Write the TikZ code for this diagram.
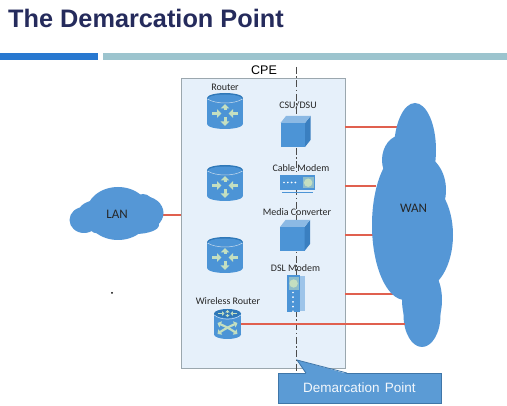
\documentclass[tikz,border=0pt]{standalone}
\usepackage{fontspec}
\setmainfont{Carlito}
\newfontfamily\arialf{Liberation Sans}
\usetikzlibrary{arrows.meta}
\definecolor{cloudblue}{HTML}{5597D6}
\definecolor{iconblue}{HTML}{4C94D6}
\definecolor{icondark}{HTML}{2F78B8}
\definecolor{iconside}{HTML}{3A7FC0}
\definecolor{iconlight}{HTML}{C4DFC0}
\definecolor{boxfill}{HTML}{E6F0FA}
\definecolor{boxline}{HTML}{9BA7AE}
\definecolor{wire}{HTML}{E0604F}
\definecolor{titlecol}{HTML}{252B5C}
\definecolor{barblue}{HTML}{2878D0}
\definecolor{barteal}{HTML}{9CC4CE}
\definecolor{calloutfill}{HTML}{5B9BD5}
\definecolor{calloutline}{HTML}{3F76A8}
\tikzset{
  cloudshape/.style={fill=cloudblue,draw=none},
  wirelink/.style={draw=wire,line width=1.1pt},
  lbl/.style={font=\fontsize{10}{11}\selectfont,text=black!85,inner sep=0pt},
  cloudlbl/.style={font=\fontsize{13}{14}\selectfont,text=black!85,inner sep=0pt},
  arr/.style={-{Triangle[length=4.5pt,width=8.5pt]},draw=iconlight,line width=3pt},
  smallarr/.style={-{Triangle[length=2.4pt,width=4.4pt]},draw=iconlight,line width=1.4pt},
  xarr/.style={{Triangle[length=3.5pt,width=6.5pt]}-{Triangle[length=3.5pt,width=6.5pt]},draw=iconlight,line width=2.2pt},
  routerpic/.pic={
    \fill[iconblue] (0,13) ellipse[x radius=18,y radius=5];
    \fill[iconblue] (-18,-13) rectangle (18,13);
    \fill[icondark] (0,-13) ellipse[x radius=18,y radius=5];
    \fill[iconblue] (0,-12.4) ellipse[x radius=17,y radius=4.1];
    \draw[white!75!iconblue,line width=.5pt] (-17.5,-12) .. controls (-10,-6.7) and (10,-6.7) .. (17.5,-12);
    \draw[arr] (0,-1) -- (0,-7);
    \draw[arr] (0,6) -- (0,15);
    \draw[arr] (-13,2.5) -- (-3.5,2.5);
    \draw[arr] (13,2.5) -- (3.5,2.5);
  },
  wirelesspic/.pic={
    \fill[iconblue] (0,10.5) ellipse[x radius=13.5,y radius=4.5];
    \fill[iconblue] (-13.5,-10.5) rectangle (13.5,10.5);
    \fill[icondark] (0,-10.5) ellipse[x radius=13.5,y radius=4.5];
    \draw[white!75!iconblue,line width=.5pt] (-13.2,-9) .. controls (-7,-3.5) and (7,-3.5) .. (13.2,-9);
    \draw[smallarr] (0,-10.5) -- (0,-14);
    \draw[smallarr] (0,-10) -- (0,-6.8);
    \draw[smallarr] (-9.5,-10.5) -- (-3,-10.5);
    \draw[smallarr] (9.5,-10.5) -- (3,-10.5);
    \draw[xarr] (-10,-1) .. controls (-3,2) and (3,5) .. (10,10);
    \draw[xarr] (10,-1) .. controls (3,2) and (-3,5) .. (-10,10);
  },
  cubepic/.pic={
    \fill[iconblue] (-15,-8.5) rectangle (9.5,15.5);
    \fill[iconside] (9.5,-8.5) -- (15,-15.5) -- (15,8.5) -- (9.5,15.5) -- cycle;
    \fill[iconblue!65!white] (-15,-8.5) -- (-9.5,-15.5) -- (15,-15.5) -- (9.5,-8.5) -- cycle;
  },
}
\begin{document}
\begin{tikzpicture}[x=1pt,y=-1pt]
\useasboundingbox (0,0) rectangle (507,406);
\fill[white] (0,0) rectangle (507,406);
% title and rules
\node[anchor=west,inner sep=0pt,text=titlecol,font=\arialf\bfseries\fontsize{25.3}{27}\selectfont] (title) at (8,18.5) {The Demarcation Point};
\fill[barblue] (0,53) rectangle (97.5,60);
\fill[barteal] (102.5,53) rectangle (507,60);
% CPE box
\node[draw=boxline,fill=boxfill,line width=.8pt,minimum width=164pt,minimum height=290pt,inner sep=0pt] (cpe) at (263,223) {};
\node[inner sep=0pt,font=\arialf\fontsize{12.5}{13}\selectfont] (cpelabel) at (264,70) {CPE};
% connection ends
\coordinate (lanedge) at (160,215);
\coordinate (csuwan) at (399,127);
\coordinate (cablewan) at (376,186);
\coordinate (mediawan) at (375,235);
\coordinate (dslwan) at (401,294);
\coordinate (wrwan) at (405,324);
\coordinate (wrout) at (241,324);
\draw[wirelink] (lanedge) -- (cpe.west |- lanedge);
\draw[wirelink] (cpe.east |- csuwan) -- (csuwan);
\draw[wirelink] (cpe.east |- cablewan) -- (cablewan);
\draw[wirelink] (cpe.east |- mediawan) -- (mediawan);
\draw[wirelink] (cpe.east |- dslwan) -- (dslwan);
% clouds
\fill[cloudshape] (415,150) ellipse[x radius=21,y radius=47];
\fill[cloudshape] (402,160) ellipse[x radius=20,y radius=25];
\fill[cloudshape] (405,225) ellipse[x radius=33,y radius=75];
\fill[cloudshape] (420,235) ellipse[x radius=33,y radius=55];
\fill[cloudshape] (420,190) ellipse[x radius=26,y radius=35];
\fill[cloudshape] (422,300) ellipse[x radius=20,y radius=35];
\fill[cloudshape] (422,315) ellipse[x radius=18.5,y radius=32];
\fill[cloudshape] (118,213.5) ellipse[x radius=32,y radius=26.5];
\fill[cloudshape] (84,220) ellipse[x radius=14.5,y radius=13];
\fill[cloudshape] (143,213) ellipse[x radius=20.5,y radius=17];
\fill[cloudshape] (143,204) ellipse[x radius=10,y radius=10];
\fill[cloudshape] (98,222) ellipse[x radius=11,y radius=11.5];
\fill[cloudshape] (98,213) ellipse[x radius=20,y radius=13];
\fill[cloudshape] (135,225) ellipse[x radius=24,y radius=9];
\node[cloudlbl] (lan) at (117,214) {LAN};
\node[cloudlbl] (wan) at (413.5,208.5) {WAN};
% demarcation line
\coordinate (demtop) at (296,67);
\coordinate (dembot) at (296,373);
\draw[black!70,line width=.7pt,dash pattern=on 7pt off 2.5pt on 1.5pt off 2.5pt] (demtop) -- (dembot);
\draw[wirelink] (wrout) -- (wrwan);
% routers
\pic at (225,111) {routerpic};
\pic at (225,183) {routerpic};
\pic at (225,255) {routerpic};
\pic at (227.5,324) {wirelesspic};
% cubes
\pic at (295.5,131.5) {cubepic};
\pic at (295,235.5) {cubepic};
% cable modem
\fill[iconblue] (279.5,175) rectangle (315,190);
\fill[iconlight!55!iconblue] (303,177) rectangle (313.5,188.5);
\fill[iconlight] (308.2,182.7) circle (4.2);
\foreach \dx in {0,3.8,7.6,11.4}{\fill[white] (284+\dx,182.5) circle (.95);}
\draw[iconblue,line width=1pt] (282,192.5) -- (313,192.5);
% dsl modem
\fill[iconblue!55!white] (299,276) rectangle (304.5,311);
\fill[iconblue] (287,275) rectangle (300,312);
\fill[iconlight!55!iconblue] (288.7,277) rectangle (298.5,290);
\fill[iconlight] (293.6,283.5) circle (4.2);
\foreach \dy in {0,4.7,9.4,14.1,18.8}{\fill[white] (293,292.5+\dy) circle (.95);}
% labels
\node[lbl] (r1label) at (225,87) {Router};
\node[lbl] (csulabel) at (298,105.5) {CSU/DSU};
\node[lbl] (cablelabel) at (301,168) {Cable Modem};
\node[lbl] (medialabel) at (297,212) {Media Converter};
\node[lbl] (dsllabel) at (295.5,268) {DSL Modem};
\node[lbl] (wrlabel) at (228,301.5) {Wireless Router};
% callout
\coordinate (calloutTip) at (297,360);
\node[inner sep=0pt,minimum width=163pt,minimum height=30pt,fill=calloutfill,draw=calloutline,line width=.8pt,text=white!92!calloutfill,font=\arialf\fontsize{13.5}{14}\selectfont] (callout) at (359.5,388) {Demarcation\hspace{1.5pt} Point};
\path[fill=calloutfill,draw=none] (306,373.8) -- (calloutTip) -- (347,373.8) -- cycle;
\draw[calloutline,line width=.8pt] (306,373) -- (calloutTip) -- (347,373);
% stray dot
\fill[black] (112,293) circle (1);
\end{tikzpicture}
\end{document}
